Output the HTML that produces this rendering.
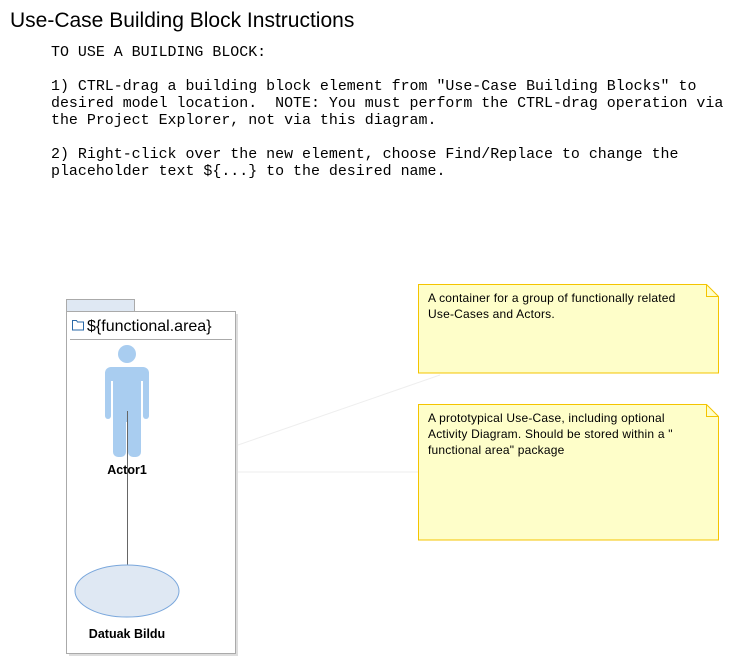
<!DOCTYPE html>
<html><head><meta charset="utf-8"><style>
body{margin:0;width:751px;height:669px;background:#fff;position:relative;overflow:hidden;font-family:"Liberation Sans",sans-serif}
.t{position:absolute;left:10px;top:9px;font-size:21px;color:#000}
pre{position:absolute;left:51px;top:45px;margin:0;font-family:"Liberation Mono",monospace;font-size:14.95px;line-height:17px;color:#000}
.n{position:absolute;font-size:12px;line-height:16px;color:#000;padding:6px 10px;box-sizing:border-box;white-space:nowrap;letter-spacing:0.2px}
</style></head><body>
<div class="t">Use-Case Building Block Instructions</div>
<pre>TO USE A BUILDING BLOCK:

1) CTRL-drag a building block element from "Use-Case Building Blocks" to
desired model location.  NOTE: You must perform the CTRL-drag operation via
the Project Explorer, not via this diagram.

2) Right-click over the new element, choose Find/Replace to change the
placeholder text ${...} to the desired name.</pre>
<svg width="751" height="669" style="position:absolute;left:0;top:0">
<line x1="238" y1="445" x2="440" y2="375" stroke="#eee"/>
<line x1="190" y1="472" x2="418" y2="472" stroke="#eee"/>
<rect x="69" y="314" width="169" height="342" fill="#ddd"/>
<rect x="66.5" y="299.5" width="68" height="12" fill="#dfe8f3" stroke="#aaa"/>
<rect x="66.5" y="311.5" width="169" height="342" fill="#fff" stroke="#aaa"/>
<line x1="70" y1="339.5" x2="232" y2="339.5" stroke="#aaa"/>
<path d="M72.5 320.5h4l1 1.5h6v8h-11z" fill="#fff" stroke="#2a6aa8"/>
<text x="87" y="331" font-size="16" font-family="Liberation Sans,sans-serif">${functional.area}</text>
<g fill="#a9cdf0">
<circle cx="127" cy="354" r="9"/>
<rect x="105" y="367" width="44" height="14" rx="6"/>
<rect x="105" y="372" width="6" height="47" rx="3"/>
<rect x="143" y="372" width="6" height="47" rx="3"/>
<rect x="113" y="372" width="28" height="50"/>
<rect x="113" y="410" width="13" height="47" rx="5"/>
<rect x="128" y="410" width="13" height="47" rx="5"/>
</g>
<line x1="127.5" y1="411" x2="127.5" y2="565" stroke="#666"/>
<text x="127" y="474" font-size="12.5" font-weight="bold" text-anchor="middle" font-family="Liberation Sans,sans-serif">Actor1</text>
<ellipse cx="127" cy="591" rx="52" ry="26" fill="#dfe8f3" stroke="#7aa7dc"/>
<text x="127" y="638" font-size="12.5" font-weight="bold" text-anchor="middle" font-family="Liberation Sans,sans-serif">Datuak Bildu</text>
<path d="M418.5 284.5h288l12 12v76.5h-300z" fill="#fefec9" stroke="#f4c400"/>
<path d="M706.5 284.5v12h12" fill="none" stroke="#f4c400"/>
<path d="M418.5 404.5h288l12 12v123.5h-300z" fill="#fefec9" stroke="#f4c400"/>
<path d="M706.5 404.5v12h12" fill="none" stroke="#f4c400"/>
</svg>
<div class="n" style="left:418px;top:284px;width:290px">A container for a group of functionally related<br>Use-Cases and Actors.</div>
<div class="n" style="left:418px;top:404px;width:290px">A prototypical Use-Case, including optional<br>Activity Diagram. Should be stored within a "<br>functional area" package</div>
</body></html>
